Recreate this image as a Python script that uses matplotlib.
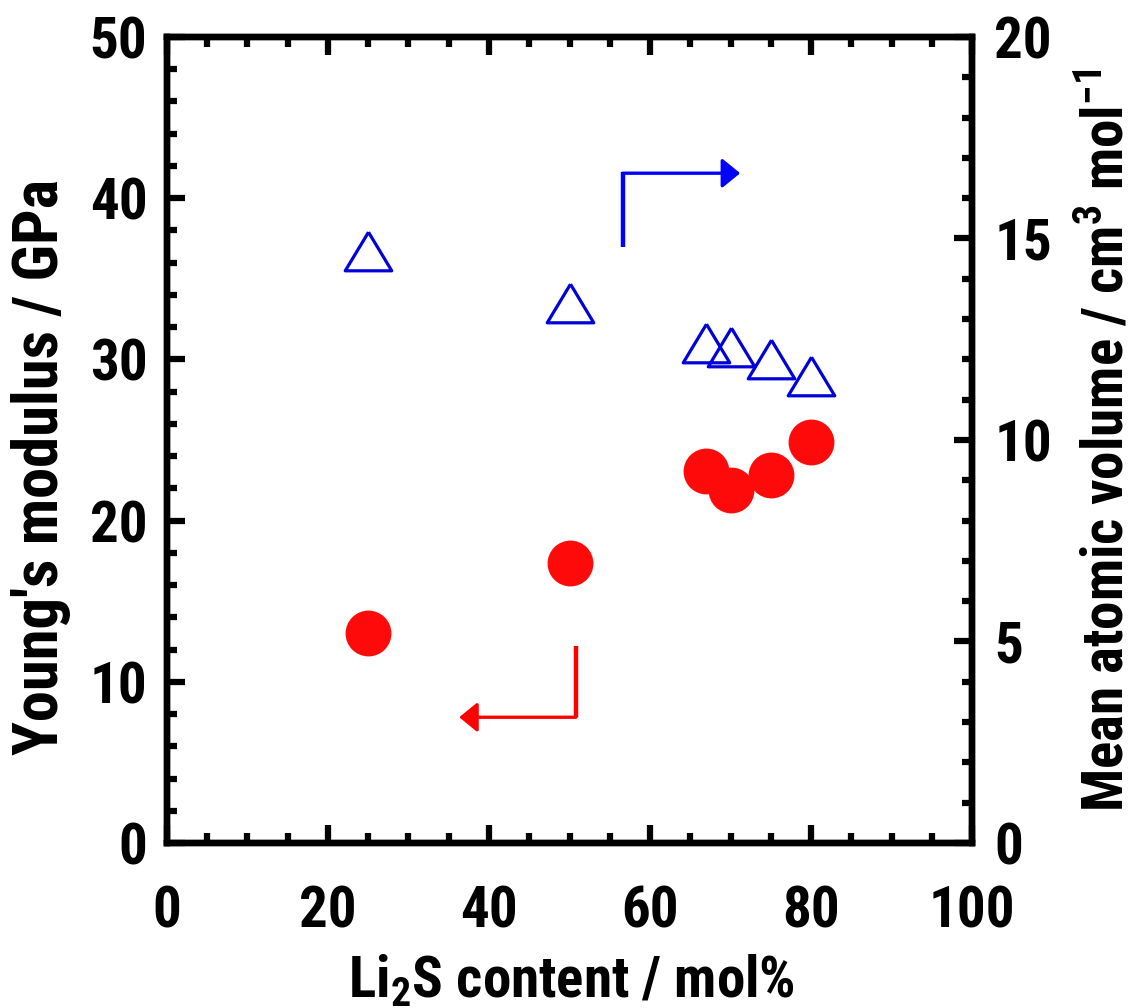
import numpy as np
import matplotlib
matplotlib.use("Agg")
import matplotlib.pyplot as plt
from matplotlib import font_manager
from matplotlib.ticker import MultipleLocator


def pick_font(names):
    for name in names:
        try:
            font_manager.findfont(font_manager.FontProperties(family=name),
                                  fallback_to_default=False)
            return name
        except ValueError:
            pass
    return 'DejaVu Sans'


font = pick_font(['Liberation Sans Narrow', 'Roboto Condensed', 'Arial Narrow',
                  'Liberation Sans'])
narrow = font != 'Liberation Sans'
plt.rcParams['font.family'] = [font, 'DejaVu Sans']
plt.rcParams['font.weight'] = 'bold'
plt.rcParams['axes.labelweight'] = 'bold'
plt.rcParams['mathtext.default'] = 'regular'

# Li2S content (mol%)
li2s = [25, 50, 67, 70, 75, 80]
# Young's modulus (GPa), left axis
youngs = [13.0, 17.4, 23.1, 21.9, 22.8, 24.9]
# mean atomic volume (cm3 mol-1), right axis
volume = [14.7, 13.4, 12.4, 12.3, 12.0, 11.6]

red = '#ff0a0a'
blue = '#0000d8'
tick_fs = 41 if narrow else 37
ylab_fs = 45 if narrow else 38
xlab_fs = 41 if narrow else 35
rlab_fs = 41 if narrow else 33

fig = plt.figure(figsize=(11.39, 10.08), dpi=100)
ax = fig.add_axes([0.1466, 0.1637, 0.7068, 0.7996])
ax2 = ax.twinx()

ax.plot(li2s, youngs, 'o', color=red, markersize=33, markeredgewidth=0, zorder=3)

tri = [(0, 0.83), (-1, -0.83), (1, -0.83), (0, 0.83)]
ax2.plot(li2s, volume, linestyle='none', marker=tri, markersize=33.5,
         markerfacecolor='none', markeredgecolor=blue, markeredgewidth=2.3)

ax.set_xlim(0, 100)
ax.set_ylim(0, 50)
ax2.set_ylim(0, 20)

ax.xaxis.set_major_locator(MultipleLocator(20))
ax.xaxis.set_minor_locator(MultipleLocator(5))
ax.yaxis.set_major_locator(MultipleLocator(10))
ax.yaxis.set_minor_locator(MultipleLocator(2))
ax2.yaxis.set_major_locator(MultipleLocator(5))
ax2.yaxis.set_minor_locator(MultipleLocator(1))

for a in (ax, ax2):
    for s in a.spines.values():
        s.set_linewidth(4.6)
    a.tick_params(which='both', direction='in', width=4.5, labelsize=tick_fs)
    a.tick_params(which='major', length=13)
    a.tick_params(which='minor', length=7.5)

ax.tick_params(axis='x', which='both', top=True, pad=30)
ax.tick_params(axis='y', which='both', right=False, pad=14)
ax2.tick_params(axis='y', which='both', left=False, right=True, pad=16)

ax.set_xlabel('Li$_2$S content / mol%', fontsize=xlab_fs, va='top')
ax.xaxis.set_label_coords(0.503, -0.137)
ax.set_ylabel("Young's modulus / GPa", fontsize=ylab_fs, va='bottom')
ax.yaxis.set_label_coords(-0.119, 0.466)
ax2.set_ylabel('Mean atomic volume / cm$^3$ mol$^{-1}$', fontsize=rlab_fs, va='top')
ax2.yaxis.set_label_coords(1.132, 0.5)

# direction markers: red points to the left axis, blue to the right one
ax.plot([50.8, 50.8], [7.8, 12.2], color='red', linewidth=3.2, solid_capstyle='butt')
ax.annotate('', xy=(36.3, 7.8), xytext=(50.8, 7.8),
            arrowprops=dict(arrowstyle='-|>,head_length=1.1,head_width=0.9',
                            mutation_scale=10, color='red', linewidth=2.4,
                            shrinkA=0, shrinkB=0))
ax2.plot([56.6, 56.6], [14.8, 16.66], color='#0000ff', linewidth=3.2, solid_capstyle='butt')
ax2.annotate('', xy=(71.2, 16.62), xytext=(56.6, 16.62),
             arrowprops=dict(arrowstyle='-|>,head_length=1.1,head_width=0.9',
                             mutation_scale=10, color='#0000ff', linewidth=2.4,
                             shrinkA=0, shrinkB=0))

fig.savefig('out.png', dpi=100)
